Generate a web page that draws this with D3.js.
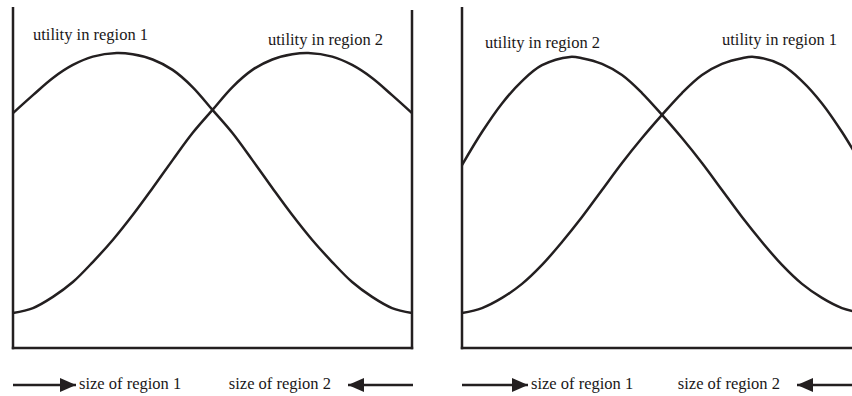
<!DOCTYPE html>
<html><head><meta charset="utf-8">
<script src="https://cdn.jsdelivr.net/npm/d3@7"></script>
<style>
html,body{margin:0;padding:0;background:#fff;}
svg{display:block;}
text{font-family:"Liberation Serif","Times New Roman",serif;font-size:16.5px;fill:#1a1718;}
</style></head>
<body>
<script>
// ---- data (share of population in region 1 along x, utility along y) ----
const shareLeft = [0,0.05,0.1,0.15,0.2,0.26,0.3,0.35,0.4,0.45,0.5,0.55,0.6,0.65,0.7,0.75,0.8,0.85,0.9,0.95,1];
const utilRegion1Left = [0.769,0.838,0.904,0.954,0.986,1.0,0.995,0.975,0.935,0.869,0.781,0.692,0.588,0.481,0.377,0.281,0.196,0.119,0.062,0.019,0];
const shareLeft2 = [0,0.05,0.1,0.15,0.2,0.25,0.3,0.35,0.4,0.45,0.5,0.55,0.6,0.65,0.7,0.74,0.8,0.85,0.9,0.95,1];
const utilRegion2Left = [0,0.019,0.062,0.119,0.196,0.281,0.377,0.481,0.588,0.692,0.781,0.869,0.935,0.975,0.995,1.0,0.986,0.954,0.904,0.838,0.769];

const shareRight = [0,0.05,0.1,0.15,0.2,0.27,0.3,0.35,0.4,0.45,0.5,0.55,0.6,0.65,0.7,0.75,0.8,0.85,0.9,0.95,1];
const utilRegion2Right = [0.569,0.696,0.806,0.892,0.953,0.985,0.980,0.958,0.915,0.846,0.762,0.673,0.577,0.473,0.369,0.273,0.185,0.112,0.058,0.019,0];
const shareRight2 = [0,0.05,0.1,0.15,0.2,0.25,0.3,0.35,0.4,0.45,0.5,0.55,0.6,0.65,0.7,0.73,0.8,0.85,0.9,0.95,1];
const utilRegion1Right = [0,0.019,0.058,0.112,0.185,0.273,0.369,0.473,0.577,0.673,0.762,0.846,0.915,0.958,0.980,0.985,0.953,0.892,0.806,0.696,0.569];

const curveLabels = ["utility in region 1","utility in region 2"];
const axisLabels = ["size of region 1","size of region 2"];

// ---- drawing ----
const W = 852, H = 396;
const ink = "#231f20";
const svg = d3.select("body").append("svg").attr("width", W).attr("height", H);

const defs = svg.append("defs");
defs.append("marker").attr("id","ah").attr("viewBox","0 0 16 14")
  .attr("refX",16).attr("refY",7).attr("markerWidth",16).attr("markerHeight",14)
  .attr("markerUnits","userSpaceOnUse").attr("orient","auto")
  .append("path").attr("d","M0,0L16,7L0,14Z").attr("fill",ink);

const yScale = d3.scaleLinear().domain([0,1]).range([313,53]);

function panel(cfg){
  const g = svg.append("g");
  const x = d3.scaleLinear().domain([0,1]).range([cfg.x0, cfg.x1]);
  const line = d3.line().x(d=>x(d[0])).y(d=>yScale(d[1])).curve(d3.curveCatmullRom.alpha(0.5));
  // frame
  g.append("line").attr("x1",cfg.x0).attr("x2",cfg.x0).attr("y1",cfg.topL).attr("y2",349.2)
    .attr("stroke",ink).attr("stroke-width",2.5);
  if(cfg.rightAxis){
    g.append("line").attr("x1",cfg.x1).attr("x2",cfg.x1).attr("y1",cfg.topR).attr("y2",349.2)
      .attr("stroke",ink).attr("stroke-width",2.5);
  }
  g.append("line").attr("x1",cfg.x0-1.2).attr("x2",cfg.x1+1.2).attr("y1",348).attr("y2",348)
    .attr("stroke",ink).attr("stroke-width",2.5);
  // curves
  cfg.series.forEach(s=>{
    g.append("path").datum(d3.zip(s.share, s.util)).attr("d",line)
      .attr("fill","none").attr("stroke",ink).attr("stroke-width",2.5);
  });
  // curve labels
  cfg.labels.forEach(l=>{
    g.append("text").attr("x",l.x).attr("y",l.y).text(l.text);
  });
  // bottom arrows and labels
  g.append("line").attr("x1",cfg.x0).attr("x2",cfg.arrowR).attr("y1",385).attr("y2",385)
    .attr("stroke",ink).attr("stroke-width",2.5).attr("marker-end","url(#ah)");
  g.append("text").attr("x",cfg.arrowR+3).attr("y",388.5).text(axisLabels[0]);
  g.append("line").attr("x1",cfg.x1+1).attr("x2",cfg.arrowL).attr("y1",385).attr("y2",385)
    .attr("stroke",ink).attr("stroke-width",2.5).attr("marker-end","url(#ah)");
  g.append("text").attr("x",cfg.arrowL-17).attr("y",388.5).attr("text-anchor","end").text(axisLabels[1]);
}

panel({x0:13, x1:412, topL:7, topR:10, rightAxis:true, arrowR:76, arrowL:348,
  series:[{share:shareLeft, util:utilRegion1Left},{share:shareLeft2, util:utilRegion2Left}],
  labels:[{x:33,y:40,text:curveLabels[0]},{x:268,y:44.5,text:curveLabels[1]}]});

panel({x0:462, x1:862, topL:7, topR:7, rightAxis:false, arrowR:528, arrowL:797,
  series:[{share:shareRight, util:utilRegion2Right},{share:shareRight2, util:utilRegion1Right}],
  labels:[{x:485,y:48,text:curveLabels[1]},{x:722,y:45,text:curveLabels[0]}]});
</script>
</body></html>
